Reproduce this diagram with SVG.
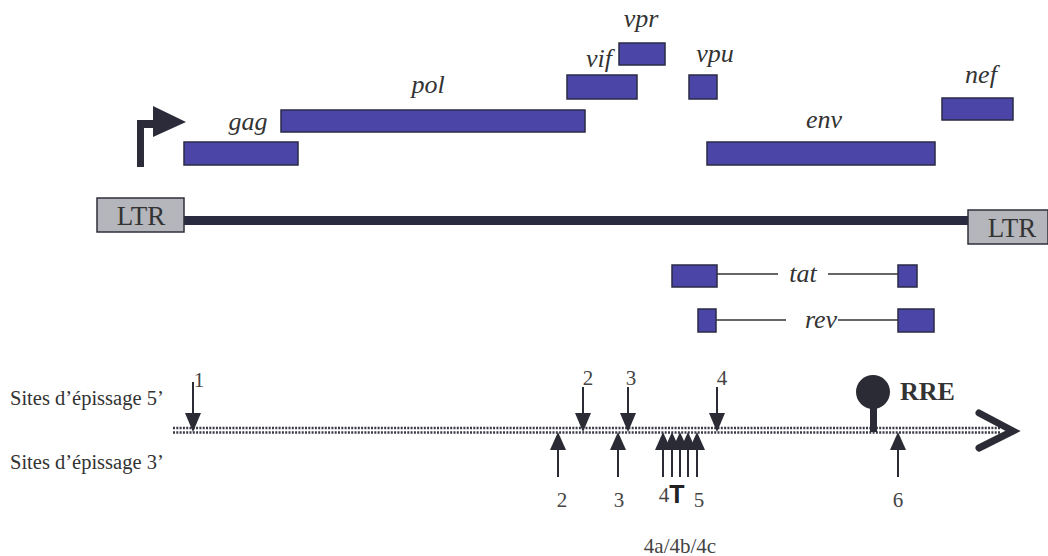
<svg xmlns="http://www.w3.org/2000/svg" width="1048" height="556" viewBox="0 0 1048 556">
<defs>
<style>
.gene{fill:#4b45a8;stroke:#2a2a45;stroke-width:1.5}
.gl{font-family:"Liberation Serif",serif;font-style:italic;font-size:26px;fill:#333}
.ltr{fill:#b4b6bc;stroke:#2f2f3a;stroke-width:1.5}
.lt{font-family:"Liberation Serif",serif;font-size:27px;fill:#333}
.num{font-family:"Liberation Serif",serif;font-size:21px;fill:#444}
.site{font-family:"Liberation Serif",serif;font-size:20.5px;fill:#333}
.thin{stroke:#333;stroke-width:1.3;fill:none}
.shaft{stroke:#2b2b36;stroke-width:2;fill:none}
.head{fill:#2b2b36}
</style>
</defs>
<rect width="1048" height="556" fill="#fff"/>

<g id="promoter">
<path d="M137 167 V120 H156 V128 H144 V167 Z" fill="#2b2b3a"/>
<polygon points="153,106 186,122 153,137" fill="#2b2b3a"/>
</g>

<g id="gag"><rect class="gene" x="184" y="142" width="114" height="23"/><text class="gl" x="248" y="130" text-anchor="middle">gag</text></g>
<g id="pol"><rect class="gene" x="281" y="110" width="304" height="22"/><text class="gl" x="428" y="93" text-anchor="middle">pol</text></g>
<g id="vif"><rect class="gene" x="567" y="75" width="70" height="24"/><text class="gl" x="599" y="67" text-anchor="middle">vif</text></g>
<g id="vpr"><rect class="gene" x="619" y="43" width="46" height="22"/><text class="gl" x="641" y="27" text-anchor="middle">vpr</text></g>
<g id="vpu"><rect class="gene" x="689" y="75" width="28" height="24"/><text class="gl" x="715" y="62" text-anchor="middle">vpu</text></g>
<g id="env"><rect class="gene" x="707" y="142" width="228" height="23"/><text class="gl" x="824" y="128" text-anchor="middle">env</text></g>
<g id="nef"><rect class="gene" x="942" y="98" width="71" height="22"/><text class="gl" x="981" y="83" text-anchor="middle">nef</text></g>

<g id="genome">
<rect x="184" y="216" width="785" height="9" fill="#2a2a40"/>
</g>
<g id="ltr-left"><rect class="ltr" x="97" y="198" width="87" height="34"/><text class="lt" x="141" y="225" text-anchor="middle">LTR</text></g>
<g id="ltr-right"><rect class="ltr" x="968" y="210" width="80" height="34"/><text class="lt" x="1012" y="237" text-anchor="middle">LTR</text></g>

<g id="tat">
<rect class="gene" x="672" y="265" width="45" height="22"/>
<rect class="gene" x="898" y="265" width="19" height="22"/>
<line class="thin" x1="717" y1="274" x2="778" y2="274"/>
<line class="thin" x1="828" y1="274" x2="898" y2="274"/>
<text class="gl" x="803" y="282" text-anchor="middle">tat</text>
</g>
<g id="rev">
<rect class="gene" x="698" y="309" width="18" height="23"/>
<rect class="gene" x="898" y="309" width="36" height="23"/>
<line class="thin" x1="716" y1="320" x2="786" y2="320"/>
<line class="thin" x1="838" y1="320" x2="898" y2="320"/>
<text class="gl" x="821" y="328" text-anchor="middle">rev</text>
</g>

<g id="labels">
<text class="site" x="10" y="405">Sites d’épissage 5’</text>
<text class="site" x="10" y="469">Sites d’épissage 3’</text>
</g>

<g id="connectors">
<g id="transcript">
<line x1="173" y1="428" x2="1000" y2="428" stroke="#3a3a48" stroke-width="2.5" stroke-dasharray="2 1.3"/>
<line x1="173" y1="432.5" x2="1000" y2="432.5" stroke="#3a3a48" stroke-width="2.5" stroke-dasharray="2 1.3"/>
<polyline points="979,413 1013,431 979,448" fill="none" stroke="#2b2b36" stroke-width="7" stroke-linecap="round" stroke-linejoin="miter"/>
</g>
<g id="rre">
<rect x="870" y="392" width="7" height="40" fill="#2b2b36"/>
<circle cx="873" cy="392" r="17" fill="#2b2b36"/>
<text x="900" y="400" font-family="Liberation Serif,serif" font-weight="bold" font-size="26" fill="#333">RRE</text>
</g>
<g id="sites5">
<line class="shaft" x1="193" y1="382" x2="193" y2="414"/><polygon class="head" points="185,413 201,413 193,432"/>
<line class="shaft" x1="583" y1="387" x2="583" y2="414"/><polygon class="head" points="575,413 591,413 583,432"/>
<line class="shaft" x1="628" y1="387" x2="628" y2="414"/><polygon class="head" points="620,413 636,413 628,432"/>
<line class="shaft" x1="717" y1="387" x2="717" y2="414"/><polygon class="head" points="709,413 725,413 717,432"/>
</g>
<g id="sites3">
<line class="shaft" x1="558" y1="449" x2="558" y2="477"/><polygon class="head" points="550,450 566,450 558,432"/>
<line class="shaft" x1="618" y1="449" x2="618" y2="477"/><polygon class="head" points="610,450 626,450 618,432"/>
<line class="shaft" x1="663" y1="449" x2="663" y2="477"/><polygon class="head" points="655,450 671,450 663,432"/>
<line class="shaft" x1="672" y1="449" x2="672" y2="477"/><polygon class="head" points="664,450 680,450 672,432"/>
<line class="shaft" x1="680" y1="449" x2="680" y2="477"/><polygon class="head" points="672,450 688,450 680,432"/>
<line class="shaft" x1="688" y1="449" x2="688" y2="477"/><polygon class="head" points="680,450 696,450 688,432"/>
<line class="shaft" x1="697" y1="449" x2="697" y2="477"/><polygon class="head" points="689,450 705,450 697,432"/>
<line class="shaft" x1="898" y1="449" x2="898" y2="477"/><polygon class="head" points="890,450 906,450 898,432"/>
</g>
</g>

<g id="numbers">
<text class="num" x="199" y="387" text-anchor="middle">1</text>
<text class="num" x="588" y="385" text-anchor="middle">2</text>
<text class="num" x="631" y="385" text-anchor="middle">3</text>
<text class="num" x="722" y="385" text-anchor="middle">4</text>
<text class="num" x="562" y="507" text-anchor="middle">2</text>
<text class="num" x="619" y="507" text-anchor="middle">3</text>
<text class="num" x="664" y="502" text-anchor="middle">4</text>
<text x="677" y="503" text-anchor="middle" font-family="Liberation Sans,sans-serif" font-weight="bold" font-size="25" fill="#222">T</text>
<text class="num" x="699" y="507" text-anchor="middle">5</text>
<text class="num" x="898" y="507" text-anchor="middle">6</text>
<text class="num" x="680" y="553" text-anchor="middle" font-size="22">4a/4b/4c</text>
</g>
</svg>
